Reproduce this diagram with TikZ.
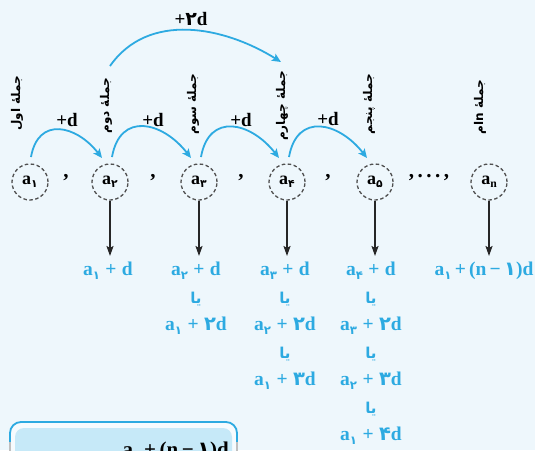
\documentclass[tikz,border=0pt]{standalone}
\usepackage{graphicx}
\usepackage{fontspec}
\setmainfont{Liberation Serif}
\newfontfamily\fa[Script=Arabic]{DejaVu Sans}
\TeXXeTstate=1
\usetikzlibrary{arrows.meta,calc}
\definecolor{bg}{RGB}{238,247,252}
\definecolor{sky}{RGB}{45,170,225}
\definecolor{boxfill}{RGB}{198,233,248}
\definecolor{boxrim}{RGB}{246,251,254}
\definecolor{dgray}{RGB}{80,80,80}
\newcommand\fd[1]{{\fa #1}}
\newcommand\sbd[1]{\raisebox{-0.4ex}{\scalebox{0.6}{\fa #1}}}
\newcommand\sbl[1]{\raisebox{-0.4ex}{\scalebox{0.65}{#1}}}
\newcommand\ya{{\fa\fontsize{15}{15}\selectfont\beginR یا\endR}}
\newcommand\pl{\;+\;}
\newcommand\pn{\,+\,}
\begin{document}
\begin{tikzpicture}[x=1pt,y=1pt,
  term/.style={circle,draw=dgray,dash pattern=on 3.5pt off 2.5pt,line width=1.3pt,
    minimum size=36pt,inner sep=0pt,font=\bfseries\fontsize{18}{18}\selectfont},
  sep/.style={font=\bfseries\fontsize{21}{21}\selectfont},
  barc/.style={draw=sky,line width=1.8pt,-{Stealth[length=9pt,width=8pt,inset=2pt]}},
  darr/.style={draw=black!85,line width=1.8pt,-{Stealth[length=10pt,width=7pt,inset=2pt]}},
  step lab/.style={font=\bfseries\fontsize{19}{19}\selectfont},
  rlab/.style={rotate=90,font=\fa\bfseries\fontsize{12}{12}\selectfont,inner sep=0pt},
  col/.style={anchor=north,align=center,text=sky,inner sep=0pt,
    font=\bfseries\fontsize{19.5}{27.5}\selectfont}]
\fill[bg] (0,0) rectangle (535,-450);
\useasboundingbox (0,0) rectangle (535,-450);

% terms
\node[term] (a1) at (30,-182) {a\sbd{۱}};
\node[term] (a2) at (110,-182) {a\sbd{۲}};
\node[term] (a3) at (199,-182) {a\sbd{۳}};
\node[term] (a4) at (287,-182) {a\sbd{۴}};
\node[term] (a5) at (375,-182) {a\sbd{۵}};
\node[term] (an) at (489,-182) {a\sbl{n}};

% separators
\node[sep] (c1) at (66,-178) {,};
\node[sep] (c2) at (153,-178) {,};
\node[sep] (c3) at (241,-178) {,};
\node[sep] (c4) at (328,-178) {,};
\node[sep] (c5) at (429,-178) {,\,.\,.\,.\,,};

% small arcs
\draw[barc] ($(a1.center)+(1pt,25pt)$) to[out=80,in=128,looseness=1.5] ($(a2.center)+(-8pt,24pt)$);
\draw[barc] ($(a2.center)+(2pt,25pt)$) to[out=80,in=128,looseness=1.5] ($(a3.center)+(-8pt,24pt)$);
\draw[barc] ($(a3.center)+(2pt,25pt)$) to[out=80,in=128,looseness=1.5] ($(a4.center)+(-8pt,24pt)$);
\draw[barc] ($(a4.center)+(2pt,25pt)$) to[out=80,in=128,looseness=1.5] ($(a5.center)+(-8pt,24pt)$);
\node[step lab] (d1) at (67,-120) {+d};
\node[step lab] (d2) at (153,-120) {+d};
\node[step lab] (d3) at (241,-120) {+d};
\node[step lab] (d4) at (328,-119) {+d};

% big arc
\draw[barc] ($(a2.center)+(0pt,116pt)$) to[out=55,in=148] ($(a4.center)+(-6pt,120pt)$);
\node[step lab] (d2x) at (191,-19) {+\fd{۲}d};

% rotated labels
\node[rlab] (l1) at (17,-103) {\beginR جملهٔ اول\endR};
\node[rlab] (l2) at (106,-106) {\beginR جملهٔ دوم\endR};
\node[rlab] (l3) at (193,-104) {\beginR جملهٔ سوم\endR};
\node[rlab] (l4) at (282,-106) {\beginR جملهٔ چهارم\endR};
\node[rlab] (l5) at (369,-104) {\beginR جملهٔ پنجم\endR};
\node[rlab] (l6) at (480,-107) {\beginR جملهٔ \beginL n\endL ام\endR};

% down arrows
\coordinate (e2) at (110,-256);
\coordinate (e3) at (199,-256);
\coordinate (e4) at (287,-256);
\coordinate (e5) at (375,-256);
\coordinate (e6) at (489,-256);
\draw[darr] (a2) -- (e2);
\draw[darr] (a3) -- (e3);
\draw[darr] (a4) -- (e4);
\draw[darr] (a5) -- (e5);
\draw[darr] (an) -- (e6);

% results
\node[col] (t2) at (108,-262) {a\sbd{۱}\pl d};
\node[col] (t3) at (196,-262) {a\sbd{۲}\pl d\\ \ya\\ a\sbd{۱}\pl\fd{۲}d};
\node[col] (t4) at (285,-262) {a\sbd{۳}\pl d\\ \ya\\ a\sbd{۲}\pl\fd{۲}d\\ \ya\\ a\sbd{۱}\pl\fd{۳}d};
\node[col] (t5) at (371,-262) {a\sbd{۴}\pl d\\ \ya\\ a\sbd{۳}\pl\fd{۲}d\\ \ya\\ a\sbd{۲}\pl\fd{۳}d\\ \ya\\ a\sbd{۱}\pl\fd{۴}d};
\node[col] (t6) at (484,-262) {a\sbd{۱}\pn(n\,−\,\fd{۱})d};

% bottom box
\fill[boxrim,rounded corners=11pt] (10,-422) rectangle (237,-470);
\draw[sky,line width=1.8pt,rounded corners=11pt] (10,-442) -- (10,-422) -- (237,-422) -- (237,-442);
\draw[black!25,line width=1.2pt] (10,-442) -- (10,-452) (237,-442) -- (237,-452);
\fill[boxfill,rounded corners=9pt] (15,-428) rectangle (232,-470);
\node[anchor=base east,font=\bfseries\fontsize{21}{21}\selectfont,inner sep=0pt] (f) at (229,-456) {a\sbd{۱}\pn(n\,−\,\fd{۱})d};
\end{tikzpicture}
\end{document}
